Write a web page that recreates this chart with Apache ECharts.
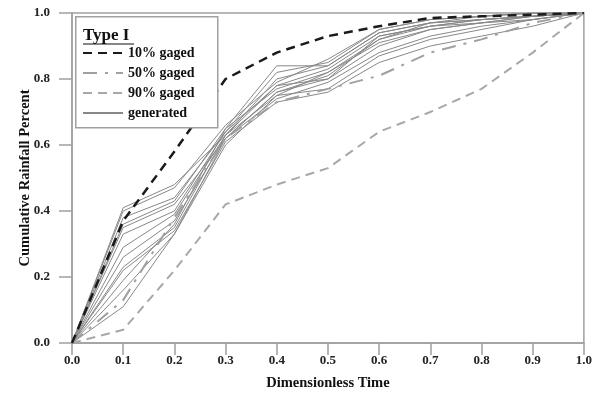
<!DOCTYPE html>
<html>
<head>
<meta charset="utf-8">
<script src="https://cdn.jsdelivr.net/npm/echarts@6/dist/echarts.min.js"></script>
<style>html,body{margin:0;padding:0;background:#fff}#c{width:595px;height:399px}</style>
</head>
<body>
<div id="c"></div>
<script>
var times = [0, 0.1, 0.2, 0.3, 0.4, 0.5, 0.6, 0.7, 0.8, 0.9, 1.0];
var gaged10 = [0, 0.37, 0.58, 0.80, 0.88, 0.93, 0.96, 0.985, 0.99, 0.995, 1];
var gaged50 = [0, 0.13, 0.38, 0.62, 0.73, 0.77, 0.81, 0.88, 0.92, 0.97, 1];
var gaged90 = [0, 0.04, 0.22, 0.42, 0.48, 0.53, 0.64, 0.70, 0.77, 0.88, 1];
var generated = [
  [0, 0.41, 0.48, 0.63, 0.80, 0.84, 0.94, 0.97, 0.98, 0.99, 1],
  [0, 0.38, 0.44, 0.64, 0.78, 0.83, 0.93, 0.96, 0.98, 0.99, 1],
  [0, 0.36, 0.43, 0.65, 0.77, 0.82, 0.92, 0.96, 0.97, 0.99, 1],
  [0, 0.35, 0.42, 0.62, 0.76, 0.80, 0.90, 0.95, 0.97, 0.98, 1],
  [0, 0.33, 0.40, 0.64, 0.82, 0.85, 0.95, 0.98, 0.99, 1.0, 1],
  [0, 0.29, 0.39, 0.63, 0.75, 0.82, 0.91, 0.95, 0.97, 0.99, 1],
  [0, 0.26, 0.37, 0.62, 0.74, 0.79, 0.88, 0.93, 0.96, 0.98, 1],
  [0, 0.23, 0.35, 0.63, 0.78, 0.80, 0.93, 0.96, 0.98, 0.99, 1],
  [0, 0.22, 0.34, 0.61, 0.73, 0.76, 0.85, 0.90, 0.93, 0.96, 1],
  [0, 0.19, 0.36, 0.65, 0.84, 0.84, 0.94, 0.97, 0.99, 1.0, 1],
  [0, 0.16, 0.33, 0.62, 0.76, 0.81, 0.92, 0.97, 0.98, 0.99, 1],
  [0, 0.11, 0.33, 0.60, 0.75, 0.77, 0.87, 0.92, 0.95, 0.98, 1],
  [0, 0.40, 0.47, 0.66, 0.79, 0.86, 0.95, 0.98, 0.99, 1.0, 1]
];
var legendNames = ['10% gaged', '50% gaged', '90% gaged', 'generated'];
var xTitle = 'Dimensionless Time';
var yTitle = 'Cumulative Rainfall Percent';
var legendTitle = 'Type I';

function pairs(vals) { return times.map(function (t, i) { return [t, vals[i]]; }); }

var font = 'Liberation Serif';
var series = [];
generated.forEach(function (g) {
  series.push({ name: 'generated', type: 'line', data: pairs(g), symbol: 'none', silent: true,
    lineStyle: { color: '#888888', width: 1 }, itemStyle: { color: '#888888' }, z: 2 });
});
series.push({ name: '50% gaged', type: 'line', data: pairs(gaged50), symbol: 'none',
  lineStyle: { color: '#a0a0a0', width: 2, type: [14, 8, 3, 8] }, itemStyle: { color: '#a0a0a0' }, z: 3 });
series.push({ name: '90% gaged', type: 'line', data: pairs(gaged90), symbol: 'none',
  lineStyle: { color: '#a8a8a8', width: 2, type: [9, 6] }, itemStyle: { color: '#a8a8a8' }, z: 3 });
series.push({ name: '10% gaged', type: 'line', data: pairs(gaged10), symbol: 'none',
  lineStyle: { color: '#1a1a1a', width: 2.5, type: [9, 6] }, itemStyle: { color: '#1a1a1a' }, z: 4 });

var chart = echarts.init(document.getElementById('c'), null, { renderer: 'canvas' });
chart.setOption({
  animation: false,
  backgroundColor: '#fff',
  grid: { left: 72, right: 9, top: 13, bottom: 56, show: true, borderColor: '#a0a0a0', borderWidth: 1.5 },
  xAxis: {
    type: 'value', min: 0, max: 1, interval: 0.1,
    name: xTitle, nameLocation: 'middle', nameGap: 33,
    nameTextStyle: { fontFamily: font, fontWeight: 'bold', fontSize: 14.5, color: '#111' },
    axisLine: { show: true, lineStyle: { color: '#a0a0a0', width: 1.5 } },
    axisTick: { show: true, inside: false, length: 12, lineStyle: { color: '#a0a0a0', width: 1.5 } },
    axisLabel: { show: true, fontFamily: font, fontWeight: 'bold', fontSize: 13, color: '#222', margin: 11,
      formatter: function (v) { return v.toFixed(1); } },
    splitLine: { show: false }
  },
  yAxis: {
    type: 'value', min: 0, max: 1, interval: 0.2,
    name: yTitle, nameLocation: 'middle', nameGap: 39, nameMoveOverlap: false,
    nameTextStyle: { fontFamily: font, fontWeight: 'bold', fontSize: 14.5, color: '#111' },
    axisLine: { show: true, lineStyle: { color: '#a0a0a0', width: 1.5 } },
    axisTick: { show: true, inside: false, length: 13, lineStyle: { color: '#a0a0a0', width: 1.5 } },
    axisLabel: { show: true, fontFamily: font, fontWeight: 'bold', fontSize: 13, color: '#222', margin: 22,
      formatter: function (v) { return v.toFixed(1); } },
    splitLine: { show: false }
  },
  legend: {
    data: legendNames, orient: 'vertical', left: 82, top: 46, z: 60, padding: 0,
    itemWidth: 40, itemHeight: 14, itemGap: 6,
    itemStyle: { opacity: 0 },
    textStyle: { fontFamily: font, fontWeight: 'bold', fontSize: 14, color: '#111' },
    selectedMode: false
  },
  graphic: [
    { type: 'rect', left: 75, top: 16, z: 10, shape: { width: 142, height: 111 },
      style: { fill: '#fff', stroke: '#a0a0a0', lineWidth: 1.5 } },
    { type: 'text', left: 83, top: 27, z: 11, style: { text: legendTitle, fontFamily: font, fontWeight: 'bold', fontSize: 17, fill: '#111' } },
    { type: 'line', z: 11, shape: { x1: 83, y1: 44, x2: 134, y2: 44 }, style: { stroke: '#111', lineWidth: 1.2 } }
  ],
  series: series
});
</script>
</body>
</html>
